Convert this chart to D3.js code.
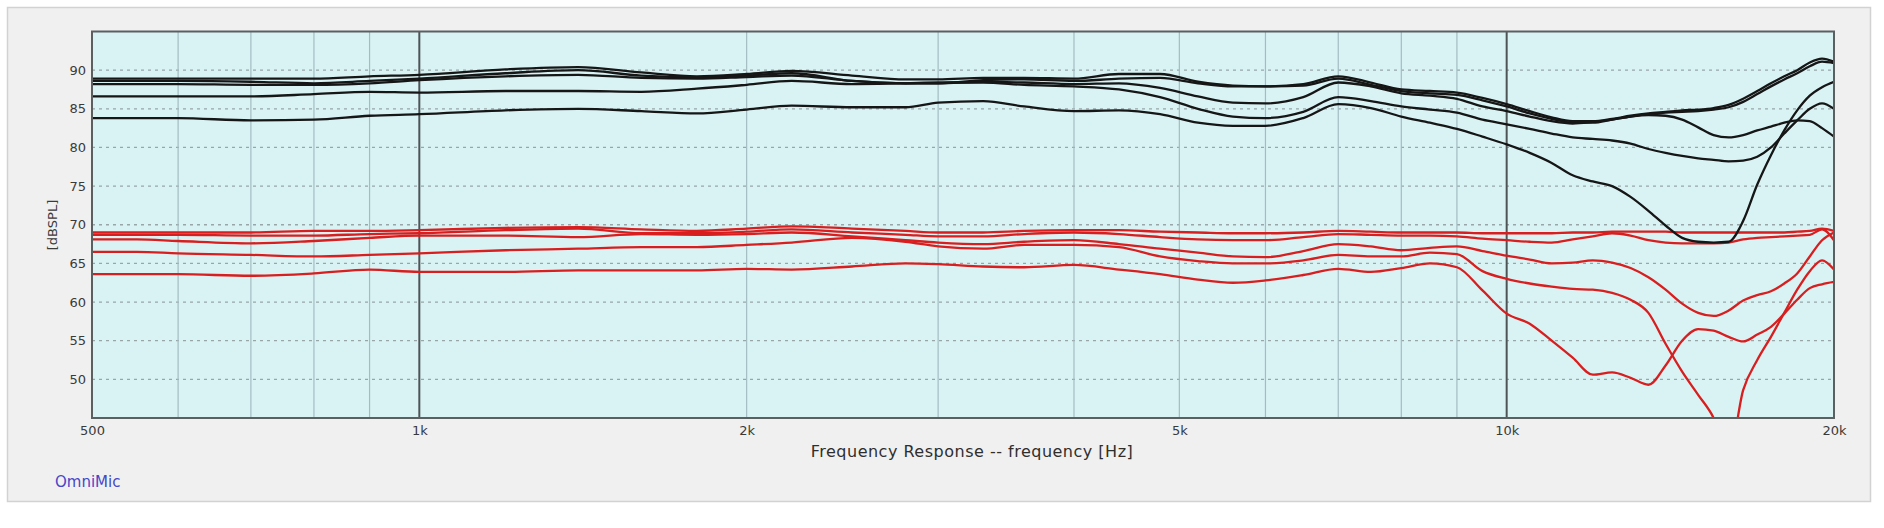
<!DOCTYPE html>
<html><head><meta charset="utf-8">
<script src="https://cdn.jsdelivr.net/npm/d3@7"></script>
<style>html,body{margin:0;padding:0;background:#fff;} svg{display:block;}</style>
</head><body>
<svg id="chart" width="1884" height="528"></svg>
<script>
// ---- data ----
const freqs = [500,550,600,700,800,900,1000,1200,1400,1600,1800,2000,2200,2500,2800,3000,3300,3600,4000,4400,4800,5200,5600,6000,6500,7000,7500,8000,8500,9000,9500,10000,10500,11000,11500,12000,12500,13000,13500,14000,14500,15000,15500,16000,16500,17000,17500,18000,18500,19000,19500,20000];

const blackA = [88.9,88.9,88.9,88.9,88.9,89.2,89.4, 90.1,90.4,89.7,89.2,89.5,89.9,89.3,88.8,88.8, 89.0,89.0,88.9,89.5,89.5,88.5,88.0,87.9, 88.2,89.2,88.4,87.5,87.3,87.1,86.4,85.6, 84.7,83.9,83.4,83.4,83.7,84.1,84.4,84.6, 84.8,84.9,85.1,85.5,86.3,87.3,88.3,89.2, 90.0,91.0,91.5,91.1];
const blackB = [88.6,88.6,88.6,88.5,88.3,88.6,88.9, 89.6,90.0,89.3,89.1,89.3,89.6,88.6,88.3,88.3, 88.7,88.8,88.6,88.9,89.0,88.3,87.9,87.9, 88.0,88.9,88.1,87.3,87.0,86.8,86.1,85.3, 84.4,83.7,83.2,83.2,83.6,84.0,84.3,84.5, 84.6,84.7,84.9,85.2,85.9,86.9,87.9,88.8, 89.6,90.5,91.1,90.9];
const blackC = [88.2,88.2,88.2,88.1,88.1,88.3,88.7, 89.2,89.4,89.0,88.9,89.1,89.3,88.6,88.3,88.3, 88.5,88.4,88.2,88.3,87.7,86.6,85.8,85.7, 86.5,88.4,87.9,87.0,86.7,86.3,85.3,84.7, 84.0,83.4,83.1,83.3,83.6,84.0,84.2,84.1, 83.6,82.6,81.6,81.3,81.6,82.2,82.7,83.2, 83.5,83.4,82.5,81.4];
const blackD = [86.6,86.6,86.6,86.6,86.9,87.2,87.1, 87.3,87.3,87.2,87.6,88.1,88.6,88.2,88.3,88.4, 88.4,88.1,87.9,87.5,86.5,85.0,84.0,83.8, 84.6,86.5,86.0,85.3,84.9,84.5,83.6,83.0, 82.4,81.8,81.3,81.1,80.9,80.5,79.8,79.3, 78.9,78.6,78.4,78.2,78.3,78.8,80.0,81.8, 83.5,85.0,85.7,85.0];
const blackE = [83.8,83.8,83.8,83.5,83.6,84.1,84.3, 84.8,85.0,84.7,84.4,84.9,85.4,85.2,85.2,85.8, 86.0,85.3,84.7,84.8,84.3,83.2,82.8,82.8, 83.8,85.6,85.1,84.0,83.2,82.4,81.4,80.4, 79.3,78.0,76.4,75.6,75.0,73.6,71.8,69.9, 68.3,67.8,67.7,67.8,70.5,75.2,79.0,82.2, 84.8,86.7,87.8,88.5];

const redA = [69.0,69.0,69.0,69.0,69.2,69.2,69.3, 69.6,69.7,69.4,69.2,69.5,69.8,69.5,69.2,69.0, 69.0,69.2,69.3,69.3,69.1,69.0,68.9,68.9, 69.0,69.2,69.1,69.0,69.0,69.0,68.9,68.9, 68.9,68.9,69.0,69.0,69.1,69.1,69.1,69.1, 69.0,69.0,69.0,69.0,69.0,69.0,69.0,69.0, 69.1,69.2,69.5,69.2];
const redB = [68.7,68.7,68.7,68.6,68.6,68.8,68.9, 69.3,69.5,68.9,68.9,69.1,69.4,69.0,68.7,68.5, 68.5,68.8,69.0,68.8,68.4,68.1,68.0,68.0, 68.4,68.8,68.7,68.6,68.6,68.5,68.2,68.0, 67.8,67.7,68.1,68.5,68.9,68.6,68.0,67.7, 67.6,67.6,67.6,67.7,68.1,68.3,68.4,68.5, 68.6,68.7,69.4,68.0];
const redC = [68.1,68.1,67.9,67.6,67.9,68.3,68.6, 68.6,68.4,68.8,68.7,68.8,69.0,68.5,68.0,67.7, 67.5,67.8,68.0,67.5,66.9,66.4,65.9,65.8, 66.6,67.5,67.2,66.7,67.0,67.2,66.6,66.0, 65.5,65.0,65.1,65.4,65.1,64.4,63.2,61.6, 59.8,58.6,58.2,58.9,60.2,60.9,61.4,62.4, 63.7,65.9,68.0,69.0];
const redD = [66.5,66.5,66.3,66.1,65.9,66.1,66.3, 66.7,66.9,67.1,67.1,67.4,67.7,68.3,67.8,67.2, 66.9,67.4,67.4,67.1,65.9,65.3,65.0,65.0, 65.4,66.1,65.9,65.9,66.4,66.2,64.0,63.0, 62.4,62.0,61.7,61.6,61.2,60.3,58.6,54.6, 51.0,48.0,45.0,40.0,48.6,52.5,55.5,58.6, 61.6,64.0,65.4,64.2];
const redE = [63.6,63.6,63.6,63.4,63.7,64.2,63.9, 63.9,64.1,64.1,64.1,64.3,64.2,64.6,65.0,64.9, 64.6,64.5,64.8,64.2,63.6,62.9,62.5,62.8, 63.5,64.3,63.9,64.4,65.0,64.5,61.5,58.5, 57.2,55.0,52.8,50.6,50.9,50.2,49.3,51.8, 55.0,56.5,56.3,55.5,54.9,55.8,56.8,58.5, 60.3,61.8,62.3,62.6];

const yTicks = [50,55,60,65,70,75,80,85,90];
const xTickValues = [500,1000,2000,5000,10000,20000];
const xTickLabels = ["500","1k","2k","5k","10k","20k"];
const minorGridFreqs = [600,700,800,900,2000,3000,4000,5000,6000,7000,8000,9000];
const majorGridFreqs = [1000,10000];

// ---- drawing ----
const svg = d3.select("#chart");
const L = 92, R = 1834, T = 31.5, B = 418;
const x = d3.scaleLog().domain([500, 20000]).range([L, R]);
const y = d3.scaleLinear().domain([45, 95]).range([B, T]);
const FONT = "'DejaVu Sans', Verdana, sans-serif";

svg.append("rect").attr("x", 7.5).attr("y", 7.5).attr("width", 1863).attr("height", 494)
  .attr("fill", "#f0f0f0").attr("stroke", "#d2d2d2").attr("stroke-width", 1.5);

svg.append("rect").attr("x", L).attr("y", T).attr("width", R - L).attr("height", B - T)
  .attr("fill", "#d9f3f5");

svg.append("defs").append("clipPath").attr("id", "plotclip")
  .append("rect").attr("x", L).attr("y", T).attr("width", R - L).attr("height", B - T);

const grid = svg.append("g");
grid.selectAll("line.hg").data(yTicks).join("line").attr("class", "hg")
  .attr("x1", L).attr("x2", R).attr("y1", d => y(d)).attr("y2", d => y(d))
  .attr("stroke", "#98a6a8").attr("stroke-width", 1.3).attr("stroke-dasharray", "3,4");
grid.selectAll("line.vg").data(minorGridFreqs).join("line").attr("class", "vg")
  .attr("x1", d => x(d)).attr("x2", d => x(d)).attr("y1", T).attr("y2", B)
  .attr("stroke", "#a3bcc0").attr("stroke-width", 1.2);
grid.selectAll("line.vm").data(majorGridFreqs).join("line").attr("class", "vm")
  .attr("x1", d => x(d)).attr("x2", d => x(d)).attr("y1", T).attr("y2", B)
  .attr("stroke", "#4e5456").attr("stroke-width", 2);

const line = d3.line().x((d, i) => x(freqs[i])).y(d => y(d)).curve(d3.curveMonotoneX);
const curves = svg.append("g").attr("clip-path", "url(#plotclip)");
const reds = [redA, redB, redC, redD, redE];
const blacks = [blackA, blackB, blackC, blackD, blackE];
curves.selectAll("path.red").data(reds).join("path").attr("class", "red")
  .attr("d", line).attr("fill", "none").attr("stroke", "#d81e1e").attr("stroke-width", 2.3)
  .attr("stroke-linejoin", "round");
curves.selectAll("path.blk").data(blacks).join("path").attr("class", "blk")
  .attr("d", line).attr("fill", "none").attr("stroke", "#161616").attr("stroke-width", 2.3)
  .attr("stroke-linejoin", "round");

svg.append("rect").attr("x", L).attr("y", T).attr("width", R - L).attr("height", B - T)
  .attr("fill", "none").attr("stroke", "#5a5f60").attr("stroke-width", 2);

// axes (labels only)
const xAxis = d3.axisBottom(x).tickValues(xTickValues)
  .tickFormat((d, i) => xTickLabels[i]).tickSize(0).tickPadding(8);
const gx = svg.append("g").attr("transform", `translate(0,${B})`).call(xAxis);
gx.select(".domain").remove();
gx.selectAll("text").attr("fill", "#3a3a3a").style("font-family", FONT).style("font-size", "13px");

const yAxis = d3.axisLeft(y).tickValues(yTicks).tickSize(0).tickPadding(6);
const gy = svg.append("g").attr("transform", `translate(${L},0)`).call(yAxis);
gy.select(".domain").remove();
gy.selectAll("text").attr("fill", "#3a3a3a").style("font-family", FONT).style("font-size", "13px");

svg.append("text").attr("x", 972).attr("y", 457).attr("text-anchor", "middle")
  .attr("fill", "#2e2e2e").style("font-family", FONT).style("font-size", "16px")
  .style("letter-spacing", "0.5px")
  .text("Frequency Response -- frequency [Hz]");

svg.append("text").attr("transform", "translate(57,225) rotate(-90)").attr("text-anchor", "middle")
  .attr("fill", "#3a3a3a").style("font-family", FONT).style("font-size", "13px")
  .text("[dBSPL]");

svg.append("text").attr("x", 55).attr("y", 487)
  .attr("fill", "#4646c8").style("font-family", FONT).style("font-size", "15px")
  .text("OmniMic");
</script>
</body></html>
